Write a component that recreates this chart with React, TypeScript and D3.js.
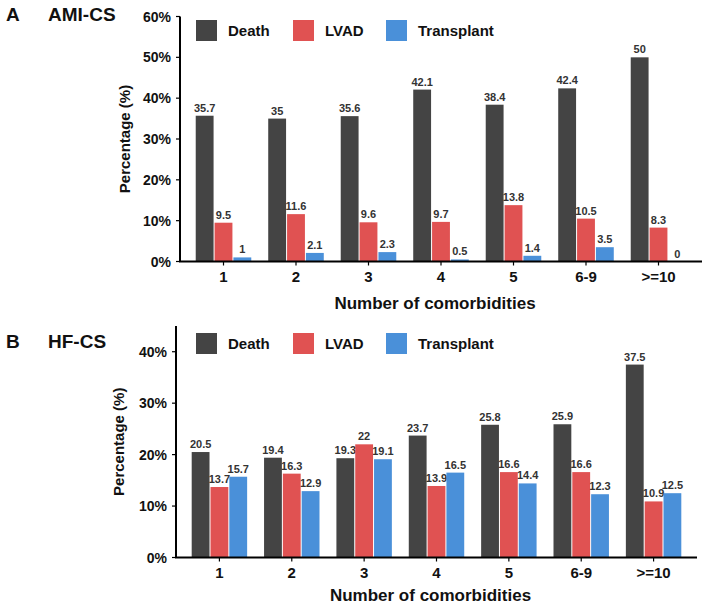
import React from "react";
import * as d3 from "d3";

const categories = ["1", "2", "3", "4", "5", "6-9", ">=10"];
const seriesNames = ["Death", "LVAD", "Transplant"];
const seriesColors = ["#444444", "#E05252", "#4A90D9"];

const amiDeath = [35.7, 35, 35.6, 42.1, 38.4, 42.4, 50];
const amiLvad = [9.5, 11.6, 9.6, 9.7, 13.8, 10.5, 8.3];
const amiTransplant = [1, 2.1, 2.3, 0.5, 1.4, 3.5, 0];

const hfDeath = [20.5, 19.4, 19.3, 23.7, 25.8, 25.9, 37.5];
const hfLvad = [13.7, 16.3, 22, 13.9, 16.6, 16.6, 10.9];
const hfTransplant = [15.7, 12.9, 19.1, 16.5, 14.4, 12.3, 12.5];

const amiTicks = [0, 10, 20, 30, 40, 50, 60];
const hfTicks = [0, 10, 20, 30, 40];

const FONT = "'Liberation Sans', Arial, Helvetica, sans-serif";

type PanelProps = {
  letter: string;
  title: string;
  titleY: number;
  series: number[][];
  ticks: number[];
  yMax: number;
  x0: number;
  x1: number;
  yBottom: number;
  yTop: number;
  legendY: number;
  xTitleY: number;
  tickLabelY: number;
  yTitleX: number;
};

function Panel(p: PanelProps) {
  const x = d3
    .scaleBand<string>()
    .domain(categories)
    .range([p.x0, p.x1])
    .paddingInner(0.22)
    .paddingOuter(0.21);
  const sub = d3.scaleBand<string>().domain(seriesNames).range([0, x.bandwidth()]);
  const y = d3.scaleLinear().domain([0, p.yMax]).range([p.yBottom, p.yTop]);
  const legendX = [196, 293, 386];
  return (
    <g>
      <text x={6} y={p.titleY} fontFamily={FONT} fontWeight="bold" fontSize={19} fill="#111">
        {p.letter}
      </text>
      <text x={48} y={p.titleY} fontFamily={FONT} fontWeight="bold" fontSize={19} fill="#111">
        {p.title}
      </text>
      {/* bars */}
      {p.series.map((vals, si) =>
        vals.map((v, ci) => {
          const bx = (x(categories[ci]) as number) + (sub(seriesNames[si]) as number);
          const bw = sub.bandwidth();
          return (
            <g key={`${si}-${ci}`}>
              <rect
                x={bx + 0.5}
                y={y(v)}
                width={bw - 1}
                height={p.yBottom - y(v)}
                fill={seriesColors[si]}
              />
              <text
                x={bx + bw / 2}
                y={y(v) - 4}
                textAnchor="middle"
                fontFamily={FONT}
                fontWeight="bold"
                fontSize={11}
                fill="#333"
              >
                {v}
              </text>
            </g>
          );
        })
      )}
      {/* y axis */}
      <line x1={p.x0} x2={p.x0} y1={y(p.yMax)} y2={p.yBottom} stroke="#000" strokeWidth={2} />
      {p.ticks.map((t) => (
        <g key={t}>
          <line x1={p.x0 - 4} x2={p.x0} y1={y(t)} y2={y(t)} stroke="#000" strokeWidth={1.2} />
          <text
            x={p.x0 - 9}
            y={y(t) + 5}
            textAnchor="end"
            fontFamily={FONT}
            fontWeight="bold"
            fontSize={14}
            fill="#111"
          >
            {t}%
          </text>
        </g>
      ))}
      {/* x axis */}
      <line x1={p.x0 - 1} x2={p.x1} y1={p.yBottom} y2={p.yBottom} stroke="#000" strokeWidth={2} />
      {categories.map((c) => {
        const cx = (x(c) as number) + x.bandwidth() / 2;
        return (
          <g key={c}>
            <line x1={cx} x2={cx} y1={p.yBottom} y2={p.yBottom + 4} stroke="#000" strokeWidth={1.2} />
            <text
              x={cx}
              y={p.tickLabelY}
              textAnchor="middle"
              fontFamily={FONT}
              fontWeight="bold"
              fontSize={15}
              fill="#111"
            >
              {c}
            </text>
          </g>
        );
      })}
      <text
        x={(p.x0 + p.x1) / 2 - 6}
        y={p.xTitleY}
        textAnchor="middle"
        fontFamily={FONT}
        fontWeight="bold"
        fontSize={17}
        fill="#111"
      >
        Number of comorbidities
      </text>
      <text
        transform={`translate(${p.yTitleX},${(y(p.yMax) + p.yBottom) / 2}) rotate(-90)`}
        textAnchor="middle"
        fontFamily={FONT}
        fontWeight="bold"
        fontSize={15}
        fill="#111"
      >
        Percentage (%)
      </text>
      {/* legend */}
      {seriesNames.map((s, i) => (
        <g key={s}>
          <rect x={legendX[i]} y={p.legendY} width={21} height={21} fill={seriesColors[i]} />
          <text
            x={legendX[i] + 32}
            y={p.legendY + 16}
            fontFamily={FONT}
            fontWeight="bold"
            fontSize={15}
            fill="#111"
          >
            {s}
          </text>
        </g>
      ))}
    </g>
  );
}

export default function App() {
  return (
    <svg
      width={709}
      height={607}
      style={{ position: "absolute", left: 0, top: 0, background: "#fff" }}
    >
      <rect width={709} height={607} fill="#fff" />
      <Panel
        letter="A"
        title="AMI-CS"
        titleY={21}
        series={[amiDeath, amiLvad, amiTransplant]}
        ticks={amiTicks}
        yMax={60}
        x0={180}
        x1={702}
        yBottom={261.5}
        yTop={16.5}
        legendY={20}
        xTitleY={309}
        tickLabelY={282}
        yTitleX={130}
      />
      <Panel
        letter="B"
        title="HF-CS"
        titleY={348}
        series={[hfDeath, hfLvad, hfTransplant]}
        ticks={hfTicks}
        yMax={45}
        x0={176}
        x1={697}
        yBottom={557.5}
        yTop={326}
        legendY={333}
        xTitleY={601}
        tickLabelY={578}
        yTitleX={124}
      />
    </svg>
  );
}
